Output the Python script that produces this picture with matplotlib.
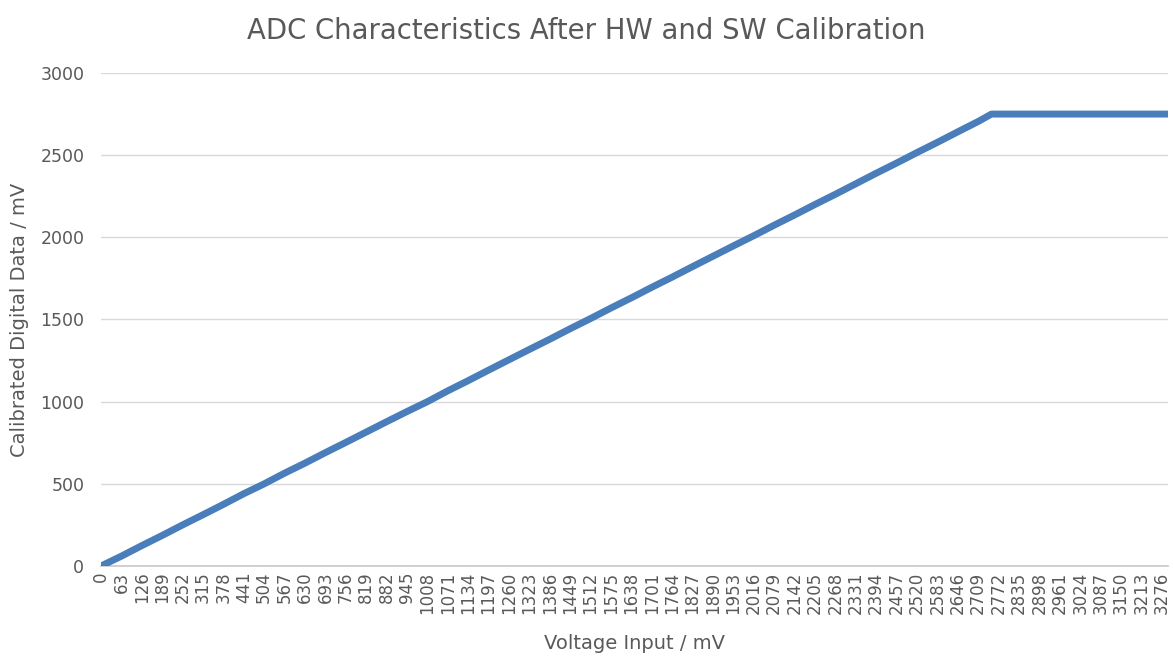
import matplotlib.pyplot as plt

# readings taken off the chart (mV)
voltage_in = [0, 63, 126, 189, 252, 315, 378, 441, 504, 567, 630, 693, 756,
              819, 882, 945, 1008, 1071, 1134, 1197, 1260, 1323, 1386, 1449,
              1512, 1575, 1638, 1701, 1764, 1827, 1890, 1953, 2016, 2079,
              2142, 2205, 2268, 2331, 2394, 2457, 2520, 2583, 2646, 2709,
              2750, 2772, 2835, 2898, 2961, 3024, 3087, 3150, 3213, 3276, 3295]
calibrated = [0, 60, 124, 186, 250, 312, 375, 440, 500, 565, 626, 690, 752,
              815, 878, 940, 1000, 1066, 1128, 1192, 1255, 1318, 1380, 1444,
              1506, 1570, 1632, 1696, 1758, 1822, 1885, 1948, 2010, 2074,
              2136, 2200, 2262, 2326, 2390, 2452, 2516, 2578, 2642, 2705,
              2750, 2750, 2750, 2750, 2750, 2750, 2750, 2750, 2750, 2750, 2750]

tick_vals = list(range(0, 3277, 63))
tick_labels = [str(v) for v in tick_vals]

txt = '#595959'
plt.rcParams['font.family'] = 'DejaVu Sans'

fig = plt.figure(figsize=(11.73, 6.57), dpi=100)
ax = fig.add_axes([0.0861, 0.1385, 0.9096, 0.7504])

ax.plot(voltage_in, calibrated, color='#4a7ebb', linewidth=5,
        solid_capstyle='round', solid_joinstyle='round', zorder=3)

ax.set_xlim(0, 3295)
ax.set_ylim(0, 3000)
ax.set_yticks([0, 500, 1000, 1500, 2000, 2500, 3000])
ax.set_xticks(tick_vals)
ax.set_xticklabels(tick_labels, rotation=90)

ax.grid(axis='y', color='#d9d9d9', linewidth=1)
ax.set_axisbelow(True)
for s in ['top', 'right', 'left']:
    ax.spines[s].set_visible(False)
ax.spines['bottom'].set_color('#c8c8c8')
ax.spines['bottom'].set_linewidth(1.2)

ax.tick_params(axis='y', length=0, pad=12, labelsize=12.5, labelcolor=txt)
ax.tick_params(axis='x', length=0, pad=4, labelsize=12, labelcolor=txt)

fig.text(0.5, 0.953, 'ADC Characteristics After HW and SW Calibration',
         fontsize=19.8, color=txt, ha='center', va='center')
ax.set_ylabel('Calibrated Digital Data / mV', fontsize=14, color=txt, labelpad=8)
ax.set_xlabel('Voltage Input / mV', fontsize=14, color=txt, labelpad=14)

fig.savefig('out.png', dpi=100)
